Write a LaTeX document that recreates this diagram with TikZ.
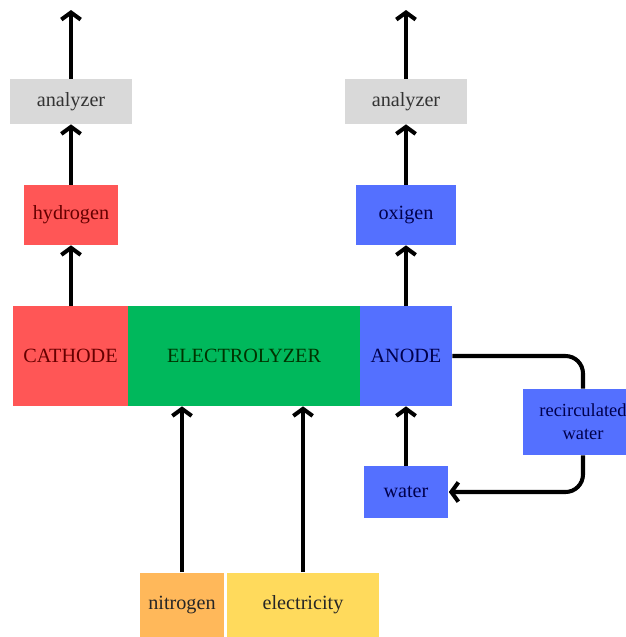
\documentclass[tikz,border=0pt]{standalone}
\usepackage{fontspec}
\setmainfont{Liberation Serif}
\usepackage{tikz}
\usetikzlibrary{positioning, arrows.meta, calc}
\definecolor{myred}{HTML}{FF5656}
\definecolor{mygreen}{HTML}{00B85C}
\definecolor{myblue}{HTML}{5470FF}
\definecolor{mygray}{HTML}{D9D9D9}
\definecolor{myorange}{HTML}{FFB85A}
\definecolor{myyellow}{HTML}{FFDA5C}
\tikzset{
	boxnode/.style={
			shape=rectangle,
			draw=none,
			inner sep=0pt,
			align=center,
			font=\fontsize{11.5}{13.5}\selectfont
		},
	rednode/.style={
			boxnode,
			fill=myred,
			text=red!40!black
		},
	bluenode/.style={
			boxnode,
			fill=myblue,
			text=blue!30!black
		},
	greennode/.style={
			boxnode,
			fill=mygreen,
			text=green!20!black
		},
	graynode/.style={
			boxnode,
			fill=mygray,
			text=black!80
		},
	flow/.style={
			line width=2.3pt,
			-{Straight Barb[length=4pt,width=11pt]}
		}
}

\begin{document}
\begin{tikzpicture}[x=0.02cm, y=-0.02cm]
  \useasboundingbox (0,0) rectangle (626,637);

  % top row
  \node[graynode, minimum width=24.4mm, minimum height=9mm] (an1) at (71,101.5) {analyzer};
  \node[graynode, minimum width=24.4mm, minimum height=9mm] (an2) at (406,101.5) {analyzer};
  \coordinate (out1) at (71,10);
  \coordinate (out2) at (406,10);

  \node[rednode, minimum width=18.8mm, minimum height=12mm] (h2) at (71,215) {hydrogen};
  \node[bluenode, minimum width=20mm, minimum height=12mm] (o2) at (406,215) {oxigen};

  % electrolyzer
  \node[rednode, minimum width=23mm, minimum height=20mm] (cat) at (70.5,356) {CATHODE};
  \node[greennode, minimum width=46.4mm, minimum height=20mm] (ely) at (244,356) {ELECTROLYZER};
  \node[bluenode, minimum width=18.4mm, minimum height=20mm] (ano) at (406,356) {ANODE};

  \node[bluenode, font=\fontsize{10.5}{13}\selectfont, minimum width=24mm, minimum height=13.2mm] (rw) at (583,422) {recirculated\\water};
  \node[bluenode, minimum width=17mm, minimum height=10.4mm] (w) at (406,492) {water};

  % inputs
  \node[boxnode, fill=myorange, text=black!85, minimum width=16.8mm, minimum height=13mm] (n2) at (182,605) {nitrogen};
  \node[boxnode, fill=myyellow, text=black!85, minimum width=30.4mm, minimum height=13mm] (el) at (303,605) {electricity};

  \draw[flow] (an1) -- (out1);
  \draw[flow] (an2) -- (out2);
  \draw[flow] (h2) -- (an1);
  \draw[flow] (o2) -- (an2);
  \draw[flow] (h2 |- cat.north) -- (h2);
  \draw[flow] (o2 |- ano.north) -- (o2);
  \draw[flow] (n2) -- (n2 |- ely.south);
  \draw[flow] (el) -- (el |- ely.south);
  \draw[flow] (w) -- (ano);
  \draw[line width=2.3pt, rounded corners=0.35cm] (ano.east) -| (rw.north);
  \draw[flow, rounded corners=0.35cm] (rw.south) |- (w.east);

\end{tikzpicture}
\end{document}
